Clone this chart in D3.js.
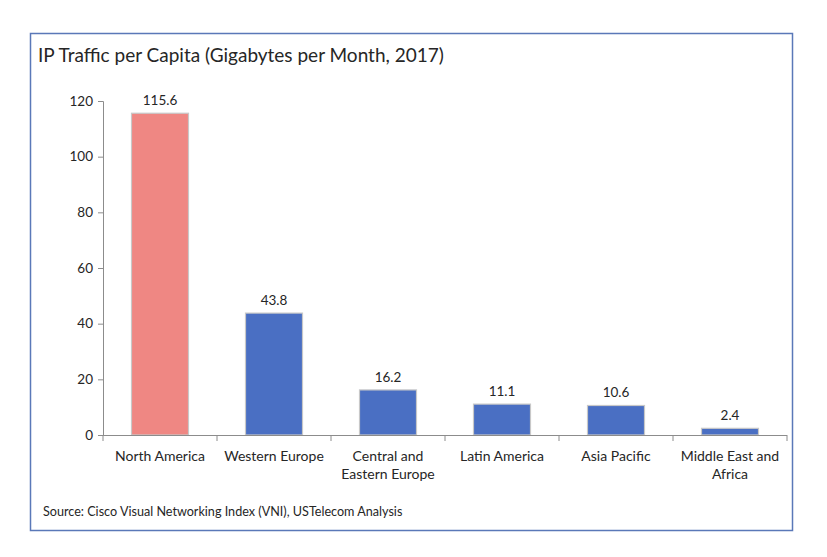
<!DOCTYPE html>
<html>
<head>
<meta charset="utf-8">
<script src="https://d3js.org/d3.v7.min.js"></script>
<style>
body { margin: 0; background: #fff; }
text { font-family: Lato, "Open Sans", sans-serif; fill: #262626; }
</style>
</head>
<body>
<script>
/* chart data */
var regions = [["North America"], ["Western Europe"], ["Central and", "Eastern Europe"],
               ["Latin America"], ["Asia Pacific"], ["Middle East and", "Africa"]];
var traffic = [115.6, 43.8, 16.2, 11.1, 10.6, 2.4];
var barColors = ["#ef8783", "#4a6fc3", "#4a6fc3", "#4a6fc3", "#4a6fc3", "#4a6fc3"];
var yTicks = [0, 20, 40, 60, 80, 100, 120];

var W = 827, H = 557;
var svg = d3.select("body").append("svg").attr("width", W).attr("height", H);

// outer frame
svg.append("rect").attr("x", 30.5).attr("y", 33.5).attr("width", 762).attr("height", 497)
  .attr("fill", "none").attr("stroke", "#5a78b8").attr("stroke-width", 1.5);

svg.append("text").attr("x", 38).attr("y", 62).attr("font-size", 19).text("IP Traffic per Capita (Gigabytes per Month, 2017)");

var pLeft = 103, pRight = 787, pTop = 101, pBottom = 435;
var keys = regions.map(function(d, i) { return i; });

var x = d3.scaleBand().domain(keys).range([pLeft, pRight]).paddingInner(0.5).paddingOuter(0.25);
var y = d3.scaleLinear().domain([0, 120]).range([pBottom, pTop]);

svg.selectAll("rect.bar").data(traffic).enter().append("rect")
  .attr("class", "bar")
  .attr("x", function(d, i) { return x(i); })
  .attr("width", x.bandwidth())
  .attr("y", function(d) { return y(d); })
  .attr("height", function(d) { return pBottom - y(d); })
  .attr("fill", function(d, i) { return barColors[i]; })
  .attr("stroke", "#c8c8c8").attr("stroke-width", 1.2);

svg.selectAll("text.val").data(traffic).enter().append("text")
  .attr("class", "val")
  .attr("x", function(d, i) { return x(i) + x.bandwidth() / 2; })
  .attr("y", function(d) { return y(d) - 8; })
  .attr("text-anchor", "middle").attr("font-size", 13.5)
  .text(function(d) { return d.toFixed(1); });

// y axis
var ya = svg.append("g").attr("transform", "translate(" + pLeft + ",0)")
  .call(d3.axisLeft(y).tickValues(yTicks).tickSize(5).tickPadding(5));
ya.select(".domain").attr("stroke", "#8c8c8c");
ya.selectAll(".tick line").attr("stroke", "#8c8c8c");
ya.selectAll("text").attr("font-size", 13.5).attr("font-family", "Lato, 'Open Sans', sans-serif").attr("fill", "#262626");

// x axis with tick marks at category boundaries
var step = x.step();
svg.append("line").attr("x1", pLeft).attr("x2", pRight).attr("y1", pBottom + 0.5).attr("y2", pBottom + 0.5)
  .attr("stroke", "#8c8c8c");
svg.selectAll("line.xt").data(d3.range(keys.length + 1)).enter().append("line")
  .attr("class", "xt")
  .attr("x1", function(d) { return pLeft + d * step; })
  .attr("x2", function(d) { return pLeft + d * step; })
  .attr("y1", pBottom).attr("y2", pBottom + 6)
  .attr("stroke", "#8c8c8c");

var xl = svg.selectAll("text.cat").data(regions).enter().append("text")
  .attr("class", "cat")
  .attr("text-anchor", "middle").attr("font-size", 14)
  .attr("x", function(d, i) { return x(i) + x.bandwidth() / 2; })
  .attr("y", 461);
xl.selectAll("tspan").data(function(d) { return d; }).enter().append("tspan")
  .attr("x", function() { return d3.select(this.parentNode).attr("x"); })
  .attr("dy", function(d, i) { return i === 0 ? 0 : 18; })
  .text(function(d) { return d; });

svg.append("text").attr("x", 43).attr("y", 516).attr("font-size", 12.6)
  .text("Source: Cisco Visual Networking Index (VNI), USTelecom Analysis");
</script>
</body>
</html>
